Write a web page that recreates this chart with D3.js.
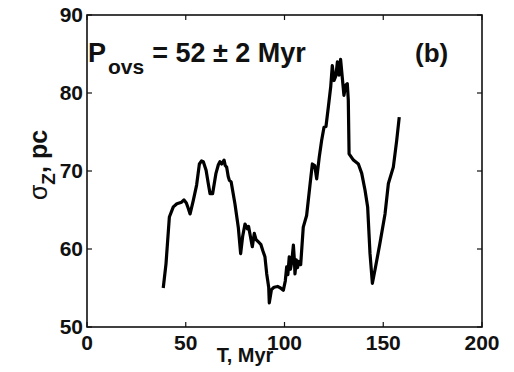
<!DOCTYPE html>
<html>
<head>
<meta charset="utf-8">
<script src="https://cdn.jsdelivr.net/npm/d3@7"></script>
<style>
  html, body { margin: 0; padding: 0; background: #fff; }
  svg { display: block; }
  text { font-family: "Liberation Sans", Arial, Helvetica, sans-serif; font-weight: bold; fill: #111; }
</style>
</head>
<body>
<svg id="chart" width="514" height="372"></svg>
<script>
// Vertical velocity dispersion sigma_Z (pc) versus time T (Myr)
const timeMyr = [
  38.6, 40.0, 41.7, 43.7, 45.5, 47.9, 49.1, 50.3, 51.3, 52.2, 53.8, 55.5, 56.9, 58.0, 58.9, 60.3,
  61.4, 62.3, 63.6, 65.3, 66.5, 67.3, 68.2, 69.4, 70.0, 70.7, 71.5, 72.1, 73.0, 74.9, 76.6,
  77.8, 78.8, 80.0, 81.2, 81.8, 82.6, 83.7, 84.7, 85.6, 86.8, 88.0, 89.0, 90.1, 91.0, 92.0,
  92.3, 93.4, 94.7, 96.5, 98.0, 99.4, 100.4, 101.1, 101.7, 102.4, 103.0, 103.6, 104.5, 105.0,
  105.3, 106.0, 106.6, 107.3, 108.2, 109.5, 111.2, 112.9, 114.1, 115.3, 116.3, 117.6, 118.8,
  120.0, 121.0, 122.2, 123.4, 124.2, 125.1, 126.0, 126.8, 127.6, 128.4, 129.4, 130.1, 131.0,
  131.8, 132.3, 132.7, 134.9, 137.4, 139.1, 140.8, 142.1, 143.3, 144.5, 145.8, 148.3, 150.9,
  152.6, 155.1, 156.8, 158.1
];
const sigmaZ = [
  55.0, 58.1, 64.1, 65.4, 65.8, 66.0, 66.3, 65.9, 65.2, 64.5, 66.2, 68.2, 70.9, 71.3, 71.2, 70.1,
  68.4, 67.1, 67.1, 69.7, 70.8, 71.2, 70.9, 71.4, 70.7, 70.5, 69.3, 68.8, 68.6, 65.8, 62.8,
  59.4, 61.6, 63.2, 62.6, 62.9, 61.8, 60.3, 62.0, 61.2, 60.9, 60.6, 59.8, 59.0, 56.8, 55.1,
  53.1, 54.8, 55.1, 55.2, 55.0, 54.7, 55.9, 57.7, 56.7, 59.0, 57.4, 58.2, 60.5, 58.6,
  56.8, 58.6, 57.6, 58.4, 58.0, 62.8, 64.3, 68.2, 70.9, 70.7, 69.0, 71.8, 73.9,
  75.6, 75.7, 78.2, 80.8, 83.5, 81.6, 82.2, 84.0, 82.3, 84.3, 81.6, 79.7, 81.0,
  81.2, 79.1, 72.2, 71.4, 70.9, 69.7, 67.5, 65.4, 59.4, 55.6, 57.3, 60.7, 64.5,
  68.4, 70.5, 73.9, 76.9
];
const xTicks = [0, 50, 100, 150, 200];
const yTicks = [50, 60, 70, 80, 90];

const svg = d3.select("#chart");
const plotL = 87, plotR = 482, plotT = 15, plotB = 327;

const x = d3.scaleLinear().domain([0, 200]).range([plotL, plotR]);
const y = d3.scaleLinear().domain([50, 90]).range([plotB, plotT]);

// Frame with ticks pointing inward on all four sides
svg.append("rect")
  .attr("x", plotL).attr("y", plotT)
  .attr("width", plotR - plotL).attr("height", plotB - plotT)
  .attr("fill", "none").attr("stroke", "#111").attr("stroke-width", 1.6);

const tickLen = 5;
const ticks = svg.append("g").attr("stroke", "#111").attr("stroke-width", 1.2);
xTicks.forEach(t => {
  ticks.append("line").attr("x1", x(t)).attr("x2", x(t)).attr("y1", plotB).attr("y2", plotB - tickLen);
  ticks.append("line").attr("x1", x(t)).attr("x2", x(t)).attr("y1", plotT).attr("y2", plotT + tickLen);
});
yTicks.forEach(t => {
  ticks.append("line").attr("x1", plotL).attr("x2", plotL + tickLen).attr("y1", y(t)).attr("y2", y(t));
  ticks.append("line").attr("x1", plotR).attr("x2", plotR - tickLen).attr("y1", y(t)).attr("y2", y(t));
});

// Tick labels
svg.append("g").selectAll("text").data(xTicks).join("text")
  .attr("x", d => x(d)).attr("y", 350)
  .attr("text-anchor", "middle").attr("font-size", 21)
  .text(d => d);
svg.append("g").selectAll("text").data(yTicks).join("text")
  .attr("x", plotL - 4).attr("y", d => y(d) + 7)
  .attr("text-anchor", "end").attr("font-size", 21)
  .text(d => d);

// Axis titles
svg.append("text")
  .attr("x", 245).attr("y", 362)
  .attr("text-anchor", "middle").attr("font-size", 20)
  .text("T, Myr");

const yTitle = svg.append("text")
  .attr("transform", "translate(47,165) rotate(-90)")
  .attr("text-anchor", "middle").attr("font-size", 25);
yTitle.append("tspan").attr("font-weight", "normal").text("σ");
yTitle.append("tspan").attr("font-size", 19).attr("dy", 8).text("Z");
yTitle.append("tspan").attr("dy", -8).text(", pc");

// Annotation: oscillation period
const ann = svg.append("text").attr("x", 88).attr("y", 62).attr("font-size", 27);
ann.append("tspan").text("P");
ann.append("tspan").attr("font-size", 21).attr("dy", 12).attr("dx", 2).text("ovs");
ann.append("tspan").attr("dy", -12).attr("dx", 8).text("= 52 ± 2 Myr");

svg.append("text").attr("x", 415).attr("y", 62).attr("font-size", 26).text("(b)");

// Data curve
const line = d3.line().x((d, i) => x(timeMyr[i])).y(d => y(d));
svg.append("path")
  .datum(sigmaZ)
  .attr("d", line)
  .attr("fill", "none").attr("stroke", "#000")
  .attr("stroke-width", 3.2).attr("stroke-linejoin", "round").attr("stroke-linecap", "butt");
</script>
</body>
</html>
